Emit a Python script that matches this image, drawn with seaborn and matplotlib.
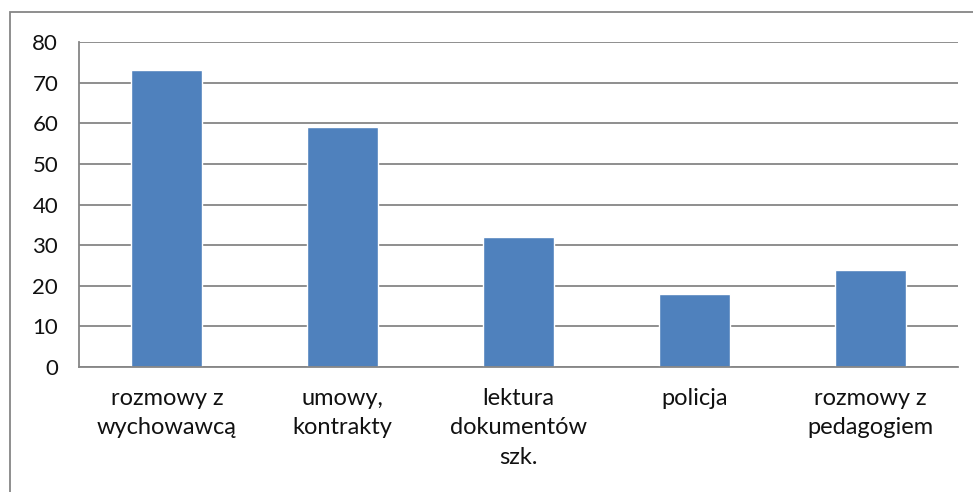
import matplotlib
matplotlib.use("Agg")
import matplotlib.pyplot as plt
import seaborn as sns
import pandas as pd
from matplotlib.patches import Rectangle

categories = ["rozmowy z\nwychowawcą", "umowy,\nkontrakty", "lektura\ndokumentów\nszk.", "policja", "rozmowy z\npedagogiem"]
values = [73, 59, 32, 18, 24]
yticks = [0, 10, 20, 30, 40, 50, 60, 70, 80]

sns.set_style("white")
plt.rcParams['font.family'] = ['Lato', 'DejaVu Sans']

df = pd.DataFrame({"cat": categories, "val": values})

fig = plt.figure(figsize=(9.73, 4.92), dpi=100)
ax = fig.add_axes([79/973, 1-367/492, (958-79)/973, (367-42)/492])
sns.barplot(data=df, x="cat", y="val", color="#4F81BD", width=0.405, ax=ax, saturation=1)

ax.set_ylim(0, 80)
ax.set_xlim(-0.5, len(categories)-0.5)
ax.set_yticks(yticks)
ax.set_yticklabels([str(v) for v in yticks], fontsize=16, color="#111111")
ax.yaxis.grid(True, color="#868686", linewidth=1.3)
ax.set_axisbelow(True)
ax.set_xlabel("")
ax.set_ylabel("")
for s in ["top", "right"]:
    ax.spines[s].set_visible(False)
for s in ["left", "bottom"]:
    ax.spines[s].set_color("#868686")
    ax.spines[s].set_linewidth(1.3)

ax.set_xticks([i + 0.5 for i in range(-1, len(categories))], minor=False)
ax.set_xticklabels([""] * (len(categories) + 1))
ax.tick_params(axis="x", which="major", length=7, color="#868686", width=1.3, direction="out")
ax.set_xticks(range(len(categories)), minor=True)
ax.set_xticklabels(categories, minor=True, fontsize=17, linespacing=1.5, va="top", color="#111111")
ax.tick_params(axis="x", which="minor", length=0, pad=15)
ax.tick_params(axis="y", length=7, color="#868686", width=1.3, direction="out", pad=8)

fig.patches.append(Rectangle((10/973, -20/492), 1000/973, (492-12+20)/492, transform=fig.transFigure,
                             fill=False, edgecolor="#868686", linewidth=1.3, clip_on=False))

fig.savefig("out.png", dpi=100)
